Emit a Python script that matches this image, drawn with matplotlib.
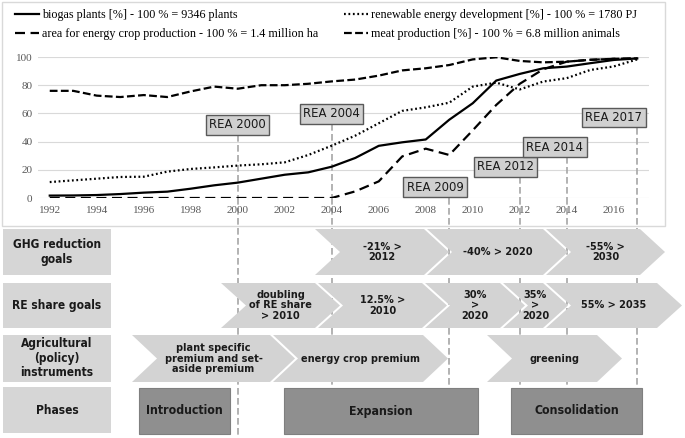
import matplotlib
matplotlib.use('Agg')
import matplotlib.pyplot as plt
from matplotlib.patches import Polygon, Rectangle

# ---- data ----
years = list(range(1992, 2018))
biogas = [1.7, 1.8, 2.1, 2.8, 3.8, 4.5, 6.6, 9.0, 10.9, 13.7, 16.5, 18.2, 22.2,
          28.4, 37.0, 39.5, 41.5, 55.5, 67.2, 83.3, 88.0, 92.0, 93.2, 95.6, 97.9, 99.0]
renewable = [11.3, 12.5, 13.7, 14.9, 15.1, 18.7, 20.6, 21.7, 23.0, 23.9, 25.3, 30.5, 37.1,
             44.2, 53.0, 61.8, 64.3, 67.6, 79.0, 81.8, 77.0, 82.6, 85.0, 90.8, 93.3, 98.3]
crop_area = [0, 0, 0, 0, 0, 0, 0, 0, 0, 0, 0, 0, 0,
             4.7, 11.8, 29.5, 35.0, 30.5, 48.0, 66.0, 81.0, 91.3, 96.7, 98.0, 98.7, 99.0]
meat = [76, 76, 72.6, 71.6, 73, 71.6, 75.6, 79, 77.5, 80, 80, 81, 82.7,
        84, 86.8, 90.5, 92, 94.3, 98.3, 99.8, 97.2, 96.2, 96.7, 98, 98.7, 99]

rea_labels = ['REA 2000', 'REA 2004', 'REA 2009', 'REA 2012', 'REA 2014', 'REA 2017']
rea_years = [2000, 2004, 2009, 2012, 2014, 2017]

row_titles = ['GHG reduction\ngoals', 'RE share goals',
              'Agricultural\n(policy)\ninstruments', 'Phases']
ghg_goals = ['-21% >\n2012', '-40% > 2020', '-55% >\n2030']
re_goals = ['doubling\nof RE share\n> 2010', '12.5% >\n2010', '30%\n>\n2020', '35%\n>\n2020', '55% > 2035']
agri_instruments = ['plant specific\npremium and set-\naside premium', 'energy crop premium', 'greening']
phases = ['Introduction', 'Expansion', 'Consolidation']

# ---- layout (pixels) ----
W, H = 685, 438
rea_box_pos = [(2000.0, 51.8), (2004.0, 59.6), (2008.4, 7.8), (2011.4, 22), (2013.5, 36), (2016.0, 57)]
row_y = [(229, 275), (283, 328), (335, 382), (387, 433)]
ghg_x = [(315, 424), (427, 543), (546, 640)]
re_x = [(221, 315), (318, 422), (425, 500), (503, 543), (546, 657)]
agri_x = [(132, 270), (273, 423), (487, 597)]
phase_x = [(139, 230), (284, 478), (511, 642)]

cond = dict(family='DejaVu Sans', fontstretch='condensed')
serif = ['Liberation Serif', 'DejaVu Serif']
txt_col = '#1a1a1a'
chev_col = '#d3d3d3'

fig = plt.figure(figsize=(W / 100, H / 100), dpi=100)
bg = fig.add_axes([0, 0, 1, 1])
bg.set_xlim(0, W)
bg.set_ylim(H, 0)
bg.axis('off')

ax = fig.add_axes([38 / W, 1 - 198 / H, 611 / W, 141 / H])
ax.patch.set_alpha(0)

# frame round the chart part
bg.add_patch(Rectangle((2, 2), 663, 224, fill=False, ec='#d9d9d9', lw=1))

l1, = ax.plot(years, biogas, color='black', lw=1.6, label='biogas plants [%] - 100 % = 9346 plants')
l2, = ax.plot(years, crop_area, color='black', lw=1.6, ls=(0, (4.5, 2.5)),
              label='area for energy crop production - 100 % = 1.4 million ha')
l3, = ax.plot(years, renewable, color='black', lw=1.6, ls=(0, (0.8, 1.2)),
              label='renewable energy development [%] - 100 % = 1780 PJ')
l4, = ax.plot(years, meat, color='black', lw=1.6, ls=(0, (3.5, 1.5)),
              label='meat production [%] - 100 % = 6.8 million animals')

ax.set_xlim(1991.5, 2017.5)
ax.set_ylim(0, 100)
ax.set_yticks(range(0, 101, 20))
ax.set_xticks(range(1992, 2017, 2))
ax.grid(axis='y', color='#d9d9d9', lw=0.8)
ax.set_axisbelow(True)
for s in ax.spines.values():
    s.set_visible(False)
ax.tick_params(length=0, labelsize=8, labelcolor='#595959', pad=4)
ax.tick_params(axis='x', pad=6)
for t in ax.get_xticklabels() + ax.get_yticklabels():
    t.set_family(serif)

fig.legend(handles=[l1, l2, l3, l4], ncol=2, loc='upper left', bbox_to_anchor=(10 / W, 1 - 4 / H),
           frameon=False, prop={'family': serif, 'size': 8.7}, handlelength=2.0,
           handletextpad=0.25, columnspacing=2.1, labelspacing=0.6, borderaxespad=0)

# REA markers and dashed lines
dash = dict(color='#a6a6a6', lw=1.2, ls=(0, (4, 2)))
for lab, yr, (bx, by) in zip(rea_labels, rea_years, rea_box_pos):
    ax.text(bx, by, lab, ha='center', va='center', fontsize=9.4, color=txt_col,
            zorder=6, bbox=dict(boxstyle='square,pad=0.25', fc='#d0d0d0', ec='#595959', lw=1), **cond)
    ax.plot([yr, yr], [by, 0], clip_on=False, zorder=1.5, **dash)
    px = bg.transData.inverted().transform(ax.transData.transform((yr, 0)))[0]
    bg.plot([px, px], [198, H], zorder=1, **dash)


def chevron(xs, xe, top, bot, d=25):
    mid = (top + bot) / 2
    pts = [(xs, top), (xe, top), (xe + d, mid), (xe, bot), (xs, bot), (xs + d, mid)]
    bg.add_patch(Polygon(pts, closed=True, fc=chev_col, ec='none', zorder=3))
    return (xs + xe + d) / 2, mid


# row titles
for title, (top, bot) in zip(row_titles, row_y):
    bg.add_patch(Rectangle((3, top), 108, bot - top, fc='#d6d6d6', ec='none', zorder=3))
    bg.text(57, (top + bot) / 2, title, ha='center', va='center', fontsize=8.6,
            fontweight='bold', color=txt_col, zorder=4, linespacing=1.15, **cond)

for labels, xs_list, (top, bot) in [(ghg_goals, ghg_x, row_y[0]),
                                    (re_goals, re_x, row_y[1]),
                                    (agri_instruments, agri_x, row_y[2])]:
    for lab, (xs, xe) in zip(labels, xs_list):
        cx, cy = chevron(xs, xe, top, bot)
        bg.text(cx, cy, lab, ha='center', va='center', fontsize=7.8, fontweight='bold',
                color=txt_col, zorder=4, linespacing=1.1, **cond)

for lab, (xs, xe) in zip(phases, phase_x):
    top, bot = 388, 434
    bg.add_patch(Rectangle((xs, top), xe - xs, bot - top, fc='#8f8f8f', ec='#7f7f7f', lw=0.8, zorder=3))
    bg.text((xs + xe) / 2, (top + bot) / 2, lab, ha='center', va='center', fontsize=8.8,
            fontweight='bold', color=txt_col, zorder=4, **cond)

fig.savefig('out.png', dpi=100)
